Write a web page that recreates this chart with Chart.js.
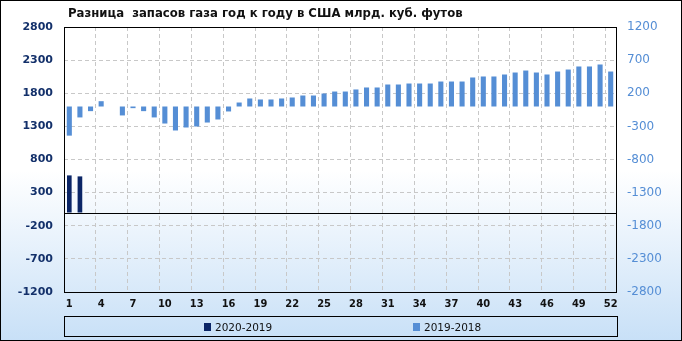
<!DOCTYPE html>
<html>
<head>
<meta charset="utf-8">
<script src="https://cdn.jsdelivr.net/npm/chart.js@4.4.1/dist/chart.umd.min.js"></script>
<style>
  html, body { margin:0; padding:0; background:#fff; }
  #wrap { width:682px; height:341px; }
</style>
</head>
<body>
<div id="wrap"><canvas id="gasChart" width="682" height="341"></canvas></div>
<script>
const chartTitle = 'Разница  запасов газа год к году в США млрд. куб. футов'

const weeks = [
  '1','2','3','4','5','6','7','8','9','10',
  '11','12','13','14','15','16','17','18','19','20',
  '21','22','23','24','25','26','27','28','29','30',
  '31','32','33','34','35','36','37','38','39','40',
  '41','42','43','44','45','46','47','48','49','50',
  '51','52'
]

// 2020-2019, left axis
const diff2020 = [560, 545]

// 2019-2018, right axis
const diff2019 = [
  -440, -165, -70, 80, 0, -135, -25, -70, -165, -257,
  -362, -317, -302, -242, -196, -75, 60, 121, 106, 106,
  121, 136, 166, 166, 196, 226, 226, 257, 287, 287,
  332, 332, 347, 347, 347, 377, 377, 377, 438, 453,
  453, 483, 513, 543, 513, 483, 528, 558, 604, 604,
  634, 528
]

const leftTicks = { min: -1200, max: 2800, step: 500 }
const rightTicks = { min: -2800, max: 1200, step: 500 }

const navy = '#0b2566'
const blue = '#558ed5'
const gridColor = '#c8c8c8'

// background, frame, zero line, title and legend box
const decor = {
  id: 'decor',
  beforeDraw(chart) {
    const { ctx, width, height } = chart
    const g = ctx.createLinearGradient(0, 0, 0, height)
    g.addColorStop(0, '#ffffff')
    g.addColorStop(0.5, '#ffffff')
    g.addColorStop(1, '#c8e0f7')
    ctx.save()
    ctx.fillStyle = g
    ctx.fillRect(0, 0, width, height)
    ctx.restore()
  },
  afterDraw(chart) {
    const { ctx, chartArea: a, width, height } = chart
    const y0 = Math.round(chart.scales.y.getPixelForValue(0)) + 0.5
    ctx.save()
    ctx.strokeStyle = '#000'
    ctx.lineWidth = 1
    ctx.beginPath()
    ctx.moveTo(a.left, y0)
    ctx.lineTo(a.right, y0)
    ctx.stroke()
    ctx.strokeRect(Math.round(a.left) + 0.5, Math.round(a.top) + 0.5,
      Math.round(a.right - a.left), Math.round(a.bottom - a.top))

    // title
    ctx.fillStyle = '#111'
    ctx.font = 'bold 11.7px "DejaVu Sans"'
    ctx.textBaseline = 'alphabetic'
    ctx.textAlign = 'left'
    ctx.fillText(chartTitle, 68, 17)

    // legend
    ctx.strokeRect(64.5, 316.5, 553, 20)
    const items = [[204, 0], [413, 1]]
    ctx.font = '10.5px "DejaVu Sans"'
    items.forEach(([x, i]) => {
      const ds = chart.data.datasets[i]
      ctx.fillStyle = ds.backgroundColor
      ctx.fillRect(x, 323, 7, 8)
      ctx.fillStyle = '#111'
      ctx.fillText(ds.label, x + 11, 331)
    })

    ctx.strokeRect(0.5, 0.5, width - 1, height - 1)
    ctx.restore()
  }
}

new Chart(document.getElementById('gasChart'), {
  type: 'bar',
  data: {
    labels: weeks,
    datasets: [
      {
        label: '2020-2019',
        data: diff2020,
        backgroundColor: navy,
        yAxisID: 'y',
        grouped: false,
        barPercentage: 0.44,
        categoryPercentage: 1
      },
      {
        label: '2019-2018',
        data: diff2019,
        backgroundColor: blue,
        yAxisID: 'y2',
        grouped: false,
        barPercentage: 0.48,
        categoryPercentage: 1
      }
    ]
  },
  options: {
    responsive: false,
    animation: false,
    layout: { padding: { top: 27, left: 0, right: 0, bottom: 0 } },
    plugins: {
      legend: { display: false },
      title: { display: false },
      tooltip: { enabled: false }
    },
    scales: {
      x: {
        offset: true,
        grid: {
          offset: true,
          drawTicks: false,
          color: c => (c.index % 3 === 0 && c.index > 0) ? gridColor : 'transparent'
        },
        border: { display: false, dash: [4, 3] },
        ticks: {
          autoSkip: false,
          maxRotation: 0,
          padding: 6,
          color: '#111',
          font: { family: 'DejaVu Sans Condensed', weight: 'bold', size: 11 },
          callback: (v, i) => (i % 3 === 0 ? weeks[i] : '')
        },
        afterFit: s => { s.height = 49 }
      },
      y: {
        position: 'left',
        min: leftTicks.min,
        max: leftTicks.max,
        grid: { color: gridColor, drawTicks: false },
        border: { display: false, dash: [4, 3] },
        ticks: {
          stepSize: leftTicks.step,
          padding: 11,
          color: '#13306a',
          font: { family: 'DejaVu Sans', weight: 'bold', size: 11 },
          callback: v => String(v)
        },
        afterFit: s => { s.width = 64 }
      },
      y2: {
        position: 'right',
        min: rightTicks.min,
        max: rightTicks.max,
        grid: { display: false, drawTicks: false },
        border: { display: false },
        ticks: {
          stepSize: rightTicks.step,
          padding: 11,
          color: blue,
          font: { family: 'DejaVu Sans', size: 12 },
          callback: v => String(v)
        },
        afterFit: s => { s.width = 66 }
      }
    }
  },
  plugins: [decor]
})
</script>
</body>
</html>
